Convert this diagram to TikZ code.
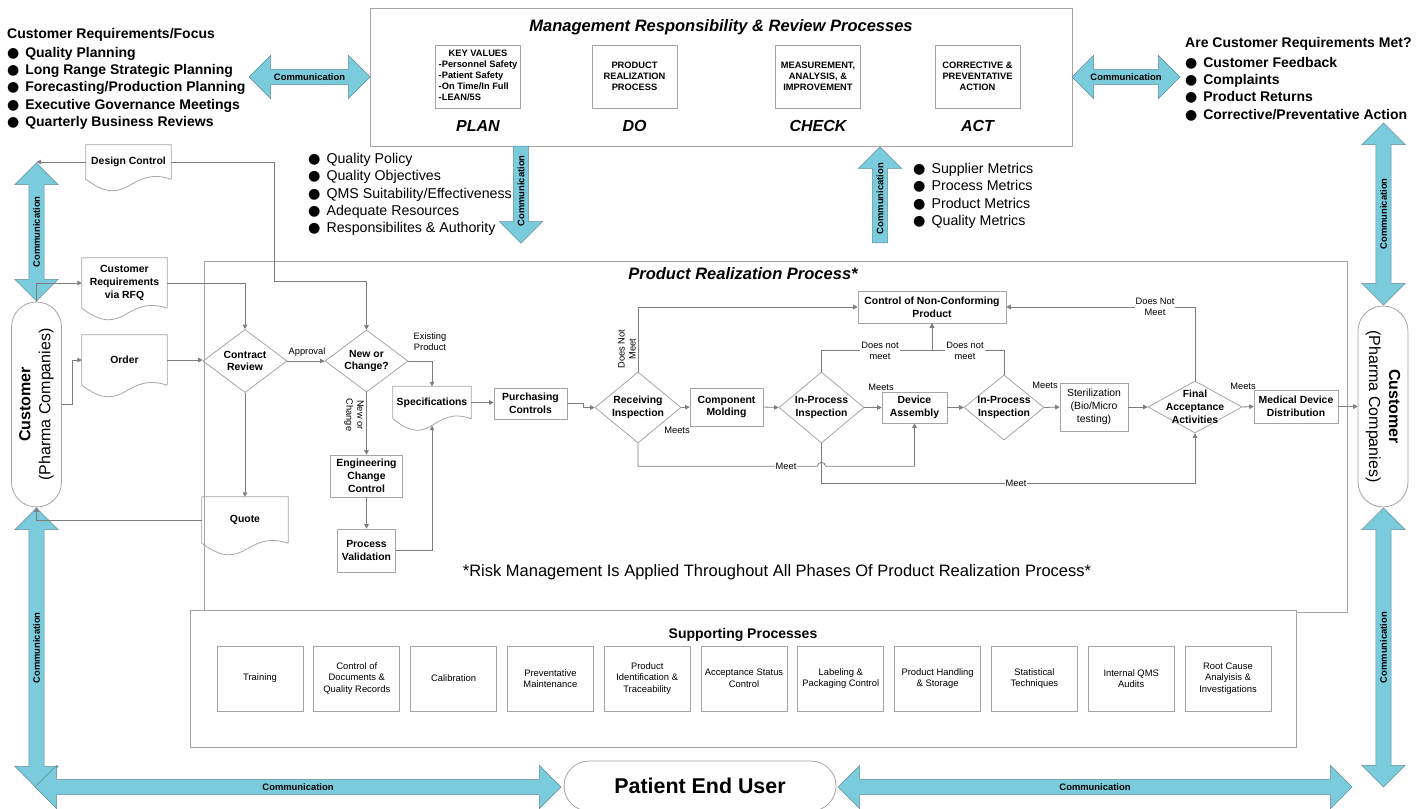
\documentclass[tikz,border=0pt]{standalone}
\usepackage{fontspec}
\setmainfont{Liberation Sans}
\newfontfamily\bulFont{DejaVu Sans}
\usetikzlibrary{shapes.geometric,shapes.arrows,shapes.misc,arrows.meta,calc}
\definecolor{commBlue}{RGB}{122,204,221}
\definecolor{commEdge}{RGB}{96,140,156}
\definecolor{boxGray}{RGB}{165,165,165}
\definecolor{lineGray}{RGB}{125,125,125}
\newcommand{\diagScale}[0]{0.75}
\newcommand{\fsz}[2]{\fontsize{#1}{#2}\selectfont}
\newcommand{\bul}[0]{{\bulFont ●}\hspace{0.42em}}
\newcommand{\docShape}[1]{\draw[boxLine] (#1.south east) -- (#1.north east) -- (#1.north west) -- (#1.south west) .. controls ($(#1.south)+(0,32)$) and ($(#1.south)+(0,-14)$) .. (#1.south east);}

\begin{document}
\begin{tikzpicture}[scale=\diagScale, transform shape, x=1pt, y=-1pt]
  \tikzset{
    boxLine/.style={draw=boxGray, line width=0.6pt},
    conn/.style={draw=lineGray, line width=0.6pt, -{Triangle[length=3.4pt,width=3.4pt]}},
    proc/.style={boxLine, rectangle, align=center, inner sep=1pt, font=\fsz{10.4}{12.8}\bfseries},
    dec/.style={boxLine, diamond, aspect=1.2, align=center, inner sep=-4pt, font=\fsz{10.4}{12.8}\bfseries},
    doc/.style={rectangle, align=center, inner sep=1pt, font=\fsz{10.4}{12.8}\bfseries},
    lbl/.style={align=center, inner sep=1pt, font=\fsz{9.3}{11}},
    sup/.style={boxLine, rectangle, align=center, minimum width=86, minimum height=65, font=\fsz{9.4}{11.7}},
    pdca/.style={boxLine, rectangle, align=center, minimum width=85, minimum height=63, inner sep=1pt, font=\fsz{9.3}{11}\bfseries},
    phase/.style={font=\fsz{16}{18}\bfseries\itshape},
    list/.style={align=left, anchor=north west, inner sep=0pt, font=\fsz{14.2}{17.3}},
    comm/.style={double arrow, fill=commBlue, draw=commEdge, line width=0.4pt, double arrow head extend=14, double arrow tip angle=90, minimum width=43, inner xsep=0pt, inner ysep=4pt, text height=6.9pt, text depth=0pt, font=\fsz{9.4}{10}\bfseries},
    commOne/.style={single arrow, fill=commBlue, draw=commEdge, line width=0.4pt, single arrow head extend=14, single arrow tip angle=90, minimum width=43, inner xsep=0pt, inner ysep=4pt, text height=6.9pt, text depth=0pt, font=\fsz{9.4}{10}\bfseries},
    cust/.style={rounded rectangle, boxLine, align=center, minimum height=50, inner xsep=1pt, font=\fsz{16}{20}}
  }
  \useasboundingbox (0,0) rectangle (1425,809);

  \node[boxLine, minimum width=1143, minimum height=351, inner sep=0pt] (PRB) at (775.5,436.5) {};
  \node[font=\fsz{16.5}{18}\bfseries\itshape] (PRB-T) at (743,274) {Product Realization Process*};
  \node[boxLine, fill=white, minimum width=1106, minimum height=137, inner sep=0pt] (SPB) at (743,678.5) {};
  \node[font=\fsz{14}{16}\bfseries] (SPB-T) at (743,635) {Supporting Processes};
  \foreach \i/\t in {0/Training, 1/{Control of\\Documents \&\\Quality Records}, 2/Calibration,
      3/{Preventative\\Maintenance}, 4/{Product\\Identification \&\\Traceability}, 5/{Acceptance Status\\Control},
      6/{Labeling \&\\Packaging Control}, 7/{Product Handling\\\& Storage}, 8/{Statistical\\Techniques},
      9/{Internal QMS\\Audits}, 10/{Root Cause\\Analyisis \&\\Investigations}}
    \node[sup] (SUP-\i) at (260+96.8*\i,678.5) {\t};

  \node[boxLine, minimum width=702, minimum height=138, inner sep=0pt] (MGT) at (721,77) {};
  \node[font=\fsz{16.5}{18}\bfseries\itshape] (MGT-T) at (721,27) {Management Responsibility \& Review Processes};
  \node[pdca] (PDCA-1) at (478,76.5) {\begin{tabular}{@{}l@{}}\multicolumn{1}{@{}c@{}}{KEY VALUES}\\-Personnel Safety\\-Patient Safety\\-On Time/In Full\\-LEAN/5S\end{tabular}};
  \node[pdca] (PDCA-2) at (634.5,76.5) {PRODUCT\\REALIZATION\\PROCESS};
  \node[pdca] (PDCA-3) at (818,76.5) {MEASUREMENT,\\ANALYSIS, \&\\IMPROVEMENT};
  \node[pdca] (PDCA-4) at (977.5,76.5) {CORRECTIVE \&\\PREVENTATIVE\\ACTION};
  \foreach \n/\x/\t in {1/478/PLAN, 2/634.5/DO, 3/818/CHECK, 4/977.5/ACT}
    \node[phase] (PH-\n) at (\x,126) {\t};

  \node[list, font=\fsz{14}{17.3}\bfseries] (CRF-1) at (7,28) {Customer Requirements/Focus\\[1.5pt]\bul Quality Planning\\\bul Long Range Strategic Planning\\\bul Forecasting/Production Planning\\\bul Executive Governance Meetings\\\bul Quarterly Business Reviews};
  \node[list, font=\fsz{14}{17.3}\bfseries] (ACR-1) at (1185,37) {Are Customer Requirements Met?\\[2.5pt]\bul Customer Feedback\\\bul Complaints\\\bul Product Returns\\\bul Corrective/Preventative Action};
  \node[list] (QP-1) at (308,153) {\bul Quality Policy\\\bul Quality Objectives\\\bul QMS Suitability/Effectiveness\\\bul Adequate Resources\\\bul Responsibilites \& Authority};
  \node[list] (SM-1) at (913,163) {\bul Supplier Metrics\\\bul Process Metrics\\\bul Product Metrics\\\bul Quality Metrics};

  \node[comm, minimum height=121] (COM-1) at (309.5,77) {Communication};
  \node[comm, minimum height=108] (COM-2) at (1126,77) {Communication};
  \node[comm, rotate=90, minimum height=138] (COM-3) at (36.5,232) {Communication};
  \node[comm, rotate=90, minimum height=280] (COM-4) at (36.5,648) {Communication};
  \node[comm, minimum height=526] (COM-5) at (298,787) {Communication};
  \node[comm, minimum height=514] (COM-6) at (1095,787) {Communication};
  \node[comm, rotate=90, minimum height=182] (COM-7) at (1383.5,214) {Communication};
  \node[comm, rotate=90, minimum height=279] (COM-8) at (1383.5,647.5) {Communication};
  \node[commOne, rotate=90, shape border rotate=180, minimum height=97, anchor=tail] (COM-9) at (521,146) {Communication};
  \node[commOne, rotate=90, minimum height=96, anchor=tail] (COM-10) at (880,243) {Communication};

  \node[cust, rotate=90, minimum width=207] (CUS-1) at (36.5,404.5) {\textbf{Customer}\\(Pharma Companies)};
  \node[cust, rotate=-90, minimum width=203] (CUS-2) at (1383,406.5) {\textbf{Customer}\\(Pharma Companies)};
  \node[cust, minimum width=274, font=\fsz{21.4}{24}\bfseries] (PEU-1) at (700,786) {Patient End User};

  \node[doc, minimum width=85, minimum height=34] (DC-1) at (128.5,162) {Design Control};
  \node[doc, minimum width=85, minimum height=50] (RFQ-1) at (124.5,283) {Customer\\Requirements\\via RFQ};
  \node[doc, minimum width=85, minimum height=50] (ORD-1) at (124.5,360) {Order};
  \node[doc, minimum width=86, minimum height=46] (QTE-1) at (245,520) {Quote};
  \node[doc, minimum width=78, minimum height=32] (SPC-1) at (432,402.5) {Specifications};
  \foreach \n in {DC-1,RFQ-1,ORD-1,QTE-1,SPC-1}
    {\docShape{\n}}

  \node[dec, minimum width=84, minimum height=63] (CR-1) at (245,361) {Contract\\Review};
  \node[dec, minimum width=83, minimum height=62] (NC-1) at (366.5,361) {New or\\Change?};
  \node[proc, minimum width=72, minimum height=42] (ECC-1) at (366.5,476) {Engineering\\Change\\Control};
  \node[proc, minimum width=58, minimum height=43] (PV-1) at (366.5,550.5) {Process\\Validation};
  \node[proc, minimum width=73, minimum height=31] (PUR-1) at (530.5,403.5) {Purchasing\\Controls};
  \node[dec, minimum width=86, minimum height=71] (RI-1) at (638,407.5) {Receiving\\Inspection};
  \node[proc, minimum width=73, minimum height=38] (CM-1) at (726.5,407) {Component\\Molding};
  \node[dec, minimum width=85, minimum height=71] (IPI-1) at (821.5,407.5) {In-Process\\Inspection};
  \node[proc, minimum width=65, minimum height=31] (DA-1) at (914.5,407.5) {Device\\Assembly};
  \node[proc, minimum width=148, minimum height=32] (CNC-1) at (932,307) {Control of Non-Conforming\\Product};
  \node[dec, minimum width=80, minimum height=65] (IPI-2) at (1004,407.5) {In-Process\\Inspection};
  \node[proc, minimum width=68, minimum height=48, font=\fsz{10.4}{12.8}] (STR-1) at (1094,407) {Sterilization\\(Bio/Micro\\testing)};
  \node[dec, aspect=1.8, inner sep=-9pt, minimum width=94, minimum height=52] (FAA-1) at (1195,407) {Final\\Acceptance\\Activities};
  \node[proc, minimum width=84, minimum height=33] (MDD-1) at (1296,406.5) {Medical Device\\Distribution};

  \draw[conn] (DC-1.west) -- (DC-1.west -| COM-3.center);
  \draw[conn] (DC-1.east) -- ++(103,0) |- ($(NC-1.north)+(0,-48)$) -- (NC-1.north);
  \draw[conn] (CUS-1.east) |- (RFQ-1.west);
  \draw[conn] (CUS-1.south) -- ++(11,0) |- (ORD-1.west);
  \draw[conn] (ORD-1.east) -- (ORD-1.east -| CR-1.west);
  \draw[conn] (RFQ-1.east) -| (CR-1.north);
  \draw[conn] (CR-1.east) -- (NC-1.west);
  \draw[conn] (CR-1.south) -- (QTE-1.north);
  \draw[conn] (QTE-1.west) -| (CUS-1.west);
  \draw[conn] (NC-1.east) -| (SPC-1.north);
  \draw[conn] (NC-1.south) -- (ECC-1.north);
  \draw[conn] (ECC-1.south) -- (PV-1.north);
  \draw[conn] (PV-1.east) -| ($(SPC-1.south)+(0,7)$);
  \draw[conn] (SPC-1.east) -- (SPC-1.east -| PUR-1.west);
  \draw[conn] (PUR-1.east) -- ++(16,0) |- (RI-1.west);
  \draw[conn] (RI-1.east) -- (CM-1.west);
  \draw[conn] (CM-1.east) -- (IPI-1.west);
  \draw[conn] (IPI-1.east) -- (DA-1.west);
  \draw[conn] (DA-1.east) -- (IPI-2.west);
  \draw[conn] (IPI-2.east) -- (STR-1.west);
  \draw[conn] (STR-1.east) -- (FAA-1.west);
  \draw[conn] (FAA-1.east) -- (MDD-1.west);
  \draw[conn] (MDD-1.east) -- (MDD-1.east -| CUS-2.south);
  \draw[conn] (RI-1.north) |- (CNC-1.west);
  \draw[conn] (RI-1.south) |- ($(IPI-1.south)+(-4,23)$) arc[start angle=180, end angle=360, radius=4] -| (DA-1.south);
  \draw[conn] (IPI-1.south) -- ++(0,40) -| (FAA-1.south);
  \draw[conn] (IPI-1.north) -- ++(0,-21) -| (CNC-1.south);
  \draw[conn] (IPI-2.north) -- ++(0,-24) -| (CNC-1.south);
  \draw[conn] (FAA-1.north) |- (CNC-1.east);

  \node[lbl] (APR-L) at (307,352) {Approval};
  \node[lbl] (EP-L) at (430,341.5) {Existing\\Product};
  \node[lbl, rotate=-90] (NOC-L) at (354,415) {New or\\Change};
  \node[lbl, rotate=90] (DNM-1) at (627,349) {Does Not\\Meet};
  \node[lbl] (MTS-1) at (677,430) {Meets};
  \node[lbl] (MTS-2) at (881,387) {Meets};
  \node[lbl] (MTS-3) at (1045,385) {Meets};
  \node[lbl] (MTS-4) at (1243,386) {Meets};
  \node[lbl, fill=white] (DNM-2) at (880,351) {Does not\\meet};
  \node[lbl, fill=white] (DNM-3) at (965,351) {Does not\\meet};
  \node[lbl, fill=white] (DNM-4) at (1155,306.5) {Does Not\\Meet};
  \node[lbl, fill=white] (MT-1) at (786,466) {Meet};
  \node[lbl, fill=white] (MT-2) at (1016,483) {Meet};

  \node[font=\fsz{16.5}{18}] (RSK-1) at (777,572) {*Risk Management Is Applied Throughout All Phases Of Product Realization Process*};
\end{tikzpicture}
\end{document}
